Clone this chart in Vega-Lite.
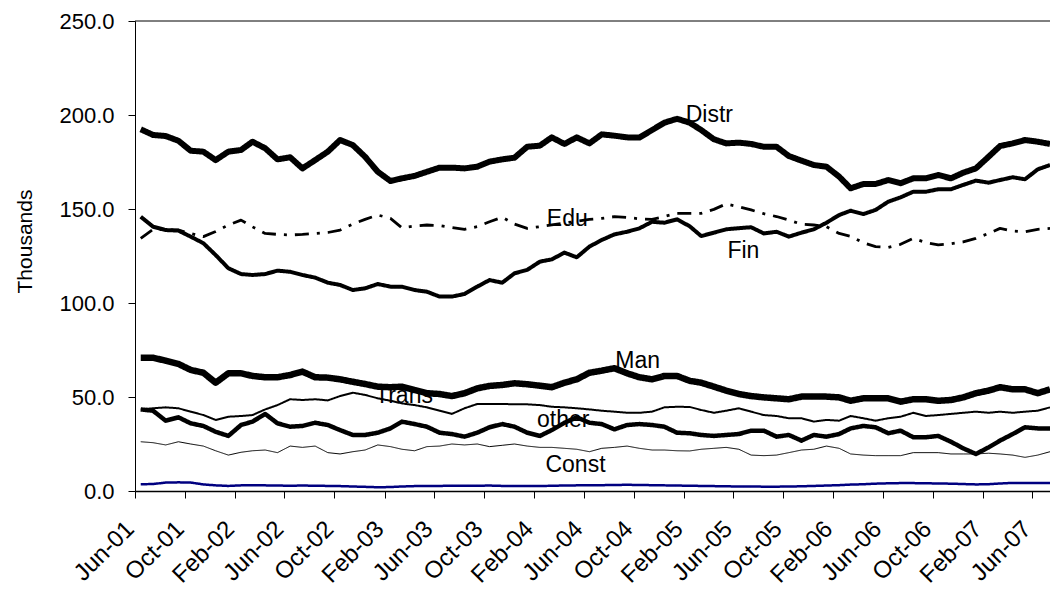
{
  "$schema": "https://vega.github.io/schema/vega-lite/v6.json",
  "width": 915,
  "height": 470,
  "autosize": "none",
  "padding": {"left": 135, "top": 21, "right": 0, "bottom": 102},
  "background": "white",
  "config": {
    "view": {"stroke": null},
    "font": "Liberation Sans",
    "axis": {"labelColor": "black", "titleColor": "black", "domainColor": "black", "tickColor": "black", "grid": false, "labelFont": "Liberation Sans", "titleFont": "Liberation Sans"}
  },
  "datasets": {
    "jobs": [
      {"d": "2001/06/15", "Distr": 192.4, "Edu": 134.4, "Fin": 145.9, "Man": 70.9, "Trans": 43.4, "other": 43.4, "Const": 26.2, "Agr": 3.6},
      {"d": "2001/07/15", "Distr": 189.4, "Edu": 139.2, "Fin": 140.6, "Man": 70.9, "Trans": 44, "other": 42.7, "Const": 25.7, "Agr": 3.7},
      {"d": "2001/08/15", "Distr": 188.8, "Edu": 139, "Fin": 138.8, "Man": 69.3, "Trans": 44.5, "other": 37.4, "Const": 24.5, "Agr": 4.5},
      {"d": "2001/09/15", "Distr": 186.3, "Edu": 138.8, "Fin": 138.5, "Man": 67.6, "Trans": 44, "other": 39.2, "Const": 26.2, "Agr": 4.6},
      {"d": "2001/10/15", "Distr": 181, "Edu": 137, "Fin": 135.3, "Man": 64.4, "Trans": 42.2, "other": 36, "Const": 25, "Agr": 4.5},
      {"d": "2001/11/15", "Distr": 180.5, "Edu": 135.3, "Fin": 131.8, "Man": 62.9, "Trans": 40.4, "other": 34.6, "Const": 23.9, "Agr": 3.5},
      {"d": "2001/12/15", "Distr": 176, "Edu": 138, "Fin": 125.5, "Man": 57.6, "Trans": 37.8, "other": 31.5, "Const": 21.4, "Agr": 3.0},
      {"d": "2002/01/15", "Distr": 180.5, "Edu": 141.5, "Fin": 118.5, "Man": 62.6, "Trans": 39.5, "other": 29.3, "Const": 19.1, "Agr": 2.7},
      {"d": "2002/02/15", "Distr": 181.4, "Edu": 144.1, "Fin": 115.4, "Man": 62.6, "Trans": 39.9, "other": 35.1, "Const": 20.6, "Agr": 3.0},
      {"d": "2002/03/15", "Distr": 185.8, "Edu": 140.5, "Fin": 114.9, "Man": 61.2, "Trans": 40.4, "other": 36.9, "Const": 21.4, "Agr": 3.1},
      {"d": "2002/04/15", "Distr": 182.3, "Edu": 137, "Fin": 115.4, "Man": 60.5, "Trans": 43.4, "other": 41, "Const": 21.8, "Agr": 3.0},
      {"d": "2002/05/15", "Distr": 176.4, "Edu": 136.5, "Fin": 117.2, "Man": 60.5, "Trans": 45.7, "other": 36, "Const": 20.4, "Agr": 2.9},
      {"d": "2002/06/15", "Distr": 177.5, "Edu": 136.2, "Fin": 116.6, "Man": 61.7, "Trans": 48.8, "other": 34.2, "Const": 23.9, "Agr": 2.8},
      {"d": "2002/07/15", "Distr": 171.6, "Edu": 136.5, "Fin": 114.9, "Man": 63.5, "Trans": 48.4, "other": 34.6, "Const": 23.2, "Agr": 2.9},
      {"d": "2002/08/15", "Distr": 176, "Edu": 137, "Fin": 113.5, "Man": 60.5, "Trans": 48.8, "other": 36.3, "Const": 23.9, "Agr": 2.8},
      {"d": "2002/09/15", "Distr": 180.5, "Edu": 137.5, "Fin": 110.8, "Man": 60.3, "Trans": 48.2, "other": 35.1, "Const": 20.4, "Agr": 2.7},
      {"d": "2002/10/15", "Distr": 186.7, "Edu": 138.8, "Fin": 109.6, "Man": 59.4, "Trans": 50.5, "other": 32.4, "Const": 19.7, "Agr": 2.6},
      {"d": "2002/11/15", "Distr": 184, "Edu": 142, "Fin": 106.9, "Man": 58.1, "Trans": 52.3, "other": 29.8, "Const": 20.9, "Agr": 2.4},
      {"d": "2002/12/15", "Distr": 177.8, "Edu": 144.5, "Fin": 107.8, "Man": 56.9, "Trans": 51.1, "other": 29.8, "Const": 21.8, "Agr": 2.2},
      {"d": "2003/01/15", "Distr": 169.8, "Edu": 146.8, "Fin": 110.1, "Man": 55.5, "Trans": 49.3, "other": 31, "Const": 24.5, "Agr": 2.0},
      {"d": "2003/02/15", "Distr": 164.9, "Edu": 145, "Fin": 108.7, "Man": 55.2, "Trans": 48, "other": 33.3, "Const": 23.6, "Agr": 2.1},
      {"d": "2003/03/15", "Distr": 166.3, "Edu": 140, "Fin": 108.7, "Man": 55.5, "Trans": 46.6, "other": 36.9, "Const": 22.2, "Agr": 2.4},
      {"d": "2003/04/15", "Distr": 167.6, "Edu": 141, "Fin": 106.9, "Man": 53.7, "Trans": 45.7, "other": 35.6, "Const": 21.4, "Agr": 2.6},
      {"d": "2003/05/15", "Distr": 169.8, "Edu": 141.5, "Fin": 106, "Man": 52, "Trans": 44.5, "other": 34.2, "Const": 23.6, "Agr": 2.7},
      {"d": "2003/06/15", "Distr": 172, "Edu": 141.2, "Fin": 103.4, "Man": 51.6, "Trans": 42.7, "other": 31, "Const": 23.9, "Agr": 2.7},
      {"d": "2003/07/15", "Distr": 172, "Edu": 140.2, "Fin": 103.4, "Man": 50.5, "Trans": 41, "other": 30.3, "Const": 25, "Agr": 2.8},
      {"d": "2003/08/15", "Distr": 171.6, "Edu": 139.2, "Fin": 104.8, "Man": 52, "Trans": 44, "other": 28.9, "Const": 24.5, "Agr": 2.8},
      {"d": "2003/09/15", "Distr": 172.5, "Edu": 140.6, "Fin": 108.7, "Man": 54.6, "Trans": 46.3, "other": 31, "Const": 25, "Agr": 2.8},
      {"d": "2003/10/15", "Distr": 175.2, "Edu": 143.2, "Fin": 112.2, "Man": 55.9, "Trans": 46.3, "other": 33.9, "Const": 23.6, "Agr": 2.9},
      {"d": "2003/11/15", "Distr": 176.4, "Edu": 145.6, "Fin": 110.8, "Man": 56.4, "Trans": 46.3, "other": 35.6, "Const": 24.3, "Agr": 2.7},
      {"d": "2003/12/15", "Distr": 177.3, "Edu": 142, "Fin": 115.8, "Man": 57.3, "Trans": 46.1, "other": 34.2, "Const": 25, "Agr": 2.6},
      {"d": "2004/01/15", "Distr": 183.1, "Edu": 139.7, "Fin": 117.6, "Man": 56.8, "Trans": 46.1, "other": 31, "Const": 23.9, "Agr": 2.6},
      {"d": "2004/02/15", "Distr": 183.7, "Edu": 140.6, "Fin": 122, "Man": 56, "Trans": 45.7, "other": 29.3, "Const": 23.2, "Agr": 2.6},
      {"d": "2004/03/15", "Distr": 188.1, "Edu": 141.5, "Fin": 123.2, "Man": 55.2, "Trans": 44.8, "other": 32.4, "Const": 23.2, "Agr": 2.8},
      {"d": "2004/04/15", "Distr": 184.6, "Edu": 142.5, "Fin": 126.8, "Man": 57.6, "Trans": 44.5, "other": 36.3, "Const": 22.7, "Agr": 2.9},
      {"d": "2004/05/15", "Distr": 188.1, "Edu": 143.5, "Fin": 124.3, "Man": 59.4, "Trans": 44, "other": 39.2, "Const": 22.2, "Agr": 3.0},
      {"d": "2004/06/15", "Distr": 184.9, "Edu": 144.5, "Fin": 130, "Man": 62.9, "Trans": 43.4, "other": 36.3, "Const": 20.9, "Agr": 3.0},
      {"d": "2004/07/15", "Distr": 189.7, "Edu": 145, "Fin": 133.5, "Man": 64, "Trans": 42.7, "other": 35.6, "Const": 22.7, "Agr": 3.1},
      {"d": "2004/08/15", "Distr": 189, "Edu": 145.9, "Fin": 136.5, "Man": 65.3, "Trans": 42.2, "other": 32.8, "Const": 23.2, "Agr": 3.2},
      {"d": "2004/09/15", "Distr": 188.1, "Edu": 145.5, "Fin": 137.9, "Man": 62.6, "Trans": 41.6, "other": 35.1, "Const": 23.9, "Agr": 3.3},
      {"d": "2004/10/15", "Distr": 188, "Edu": 144.8, "Fin": 139.7, "Man": 60.5, "Trans": 41.6, "other": 35.6, "Const": 22.7, "Agr": 3.2},
      {"d": "2004/11/15", "Distr": 192, "Edu": 144.5, "Fin": 143.2, "Man": 59.4, "Trans": 42.2, "other": 35.1, "Const": 21.8, "Agr": 3.1},
      {"d": "2004/12/15", "Distr": 195.9, "Edu": 146, "Fin": 142.7, "Man": 61.2, "Trans": 44.5, "other": 34.2, "Const": 21.8, "Agr": 3.0},
      {"d": "2005/01/15", "Distr": 198, "Edu": 147.7, "Fin": 144.5, "Man": 61.2, "Trans": 44.8, "other": 31, "Const": 21.4, "Agr": 2.9},
      {"d": "2005/02/15", "Distr": 195.9, "Edu": 147.7, "Fin": 140.8, "Man": 58.6, "Trans": 44.7, "other": 30.7, "Const": 21.3, "Agr": 2.8},
      {"d": "2005/03/15", "Distr": 192, "Edu": 147.7, "Fin": 135.6, "Man": 57.6, "Trans": 43.1, "other": 29.8, "Const": 22.2, "Agr": 2.7},
      {"d": "2005/04/15", "Distr": 187.1, "Edu": 149.8, "Fin": 137.4, "Man": 55.5, "Trans": 41.6, "other": 29.3, "Const": 22.7, "Agr": 2.6},
      {"d": "2005/05/15", "Distr": 184.9, "Edu": 152.7, "Fin": 139.2, "Man": 53.4, "Trans": 42.7, "other": 29.8, "Const": 23.2, "Agr": 2.5},
      {"d": "2005/06/15", "Distr": 185.3, "Edu": 151.2, "Fin": 139.8, "Man": 51.6, "Trans": 44, "other": 30.3, "Const": 22.2, "Agr": 2.4},
      {"d": "2005/07/15", "Distr": 184.6, "Edu": 149.5, "Fin": 140.3, "Man": 50.5, "Trans": 42.2, "other": 32.1, "Const": 19.1, "Agr": 2.4},
      {"d": "2005/08/15", "Distr": 183.1, "Edu": 147.5, "Fin": 137, "Man": 49.8, "Trans": 40.4, "other": 32.1, "Const": 18.8, "Agr": 2.3},
      {"d": "2005/09/15", "Distr": 183.1, "Edu": 146, "Fin": 137.9, "Man": 49.3, "Trans": 39.9, "other": 28.9, "Const": 19.1, "Agr": 2.3},
      {"d": "2005/10/15", "Distr": 178.2, "Edu": 144.1, "Fin": 135.3, "Man": 48.8, "Trans": 38.7, "other": 29.8, "Const": 20.4, "Agr": 2.4},
      {"d": "2005/11/15", "Distr": 175.7, "Edu": 141.9, "Fin": 137.4, "Man": 50.2, "Trans": 38.7, "other": 26.8, "Const": 21.8, "Agr": 2.5},
      {"d": "2005/12/15", "Distr": 173.4, "Edu": 141.5, "Fin": 139.2, "Man": 50.2, "Trans": 36.9, "other": 29.8, "Const": 22.2, "Agr": 2.7},
      {"d": "2006/01/15", "Distr": 172.5, "Edu": 140.6, "Fin": 142.7, "Man": 50.2, "Trans": 37.8, "other": 28.9, "Const": 23.9, "Agr": 2.9},
      {"d": "2006/02/15", "Distr": 167.2, "Edu": 137, "Fin": 146.8, "Man": 49.8, "Trans": 37.4, "other": 30.3, "Const": 22.7, "Agr": 3.1},
      {"d": "2006/03/15", "Distr": 161, "Edu": 135.5, "Fin": 149.1, "Man": 48, "Trans": 39.9, "other": 33.3, "Const": 19.7, "Agr": 3.4},
      {"d": "2006/04/15", "Distr": 163.3, "Edu": 132, "Fin": 147.3, "Man": 49.3, "Trans": 38.7, "other": 34.6, "Const": 19.1, "Agr": 3.6},
      {"d": "2006/05/15", "Distr": 163.3, "Edu": 130, "Fin": 149.5, "Man": 49.3, "Trans": 37.4, "other": 33.9, "Const": 18.8, "Agr": 3.9},
      {"d": "2006/06/15", "Distr": 165.4, "Edu": 129.6, "Fin": 153.9, "Man": 49.3, "Trans": 38.7, "other": 30.7, "Const": 18.8, "Agr": 4.1},
      {"d": "2006/07/15", "Distr": 163.7, "Edu": 131.2, "Fin": 156.2, "Man": 47.5, "Trans": 39.5, "other": 32.1, "Const": 18.8, "Agr": 4.2},
      {"d": "2006/08/15", "Distr": 166.3, "Edu": 134.4, "Fin": 159.2, "Man": 48.8, "Trans": 41.6, "other": 28.6, "Const": 20.4, "Agr": 4.2},
      {"d": "2006/09/15", "Distr": 166.3, "Edu": 132.1, "Fin": 159.2, "Man": 48.8, "Trans": 39.9, "other": 28.6, "Const": 20.4, "Agr": 4.1},
      {"d": "2006/10/15", "Distr": 168.1, "Edu": 130.9, "Fin": 160.5, "Man": 48, "Trans": 40.4, "other": 29.3, "Const": 20.4, "Agr": 4.0},
      {"d": "2006/11/15", "Distr": 166.3, "Edu": 131.5, "Fin": 160.5, "Man": 48.4, "Trans": 41, "other": 26.2, "Const": 19.7, "Agr": 3.9},
      {"d": "2006/12/15", "Distr": 169.3, "Edu": 132.5, "Fin": 162.8, "Man": 49.8, "Trans": 41.6, "other": 22.7, "Const": 19.7, "Agr": 3.7},
      {"d": "2007/01/15", "Distr": 171.6, "Edu": 134.4, "Fin": 165.1, "Man": 52, "Trans": 42.2, "other": 19.7, "Const": 19.7, "Agr": 3.5},
      {"d": "2007/02/15", "Distr": 177.8, "Edu": 137, "Fin": 164, "Man": 53.4, "Trans": 41.6, "other": 23.2, "Const": 20.1, "Agr": 3.6},
      {"d": "2007/03/15", "Distr": 183.5, "Edu": 139.7, "Fin": 165.4, "Man": 55.2, "Trans": 42.2, "other": 26.8, "Const": 19.7, "Agr": 4.0},
      {"d": "2007/04/15", "Distr": 184.9, "Edu": 138.3, "Fin": 166.9, "Man": 54.1, "Trans": 41.6, "other": 30.3, "Const": 19.1, "Agr": 4.3},
      {"d": "2007/05/15", "Distr": 186.7, "Edu": 137.9, "Fin": 165.8, "Man": 54.1, "Trans": 42.2, "other": 33.9, "Const": 17.9, "Agr": 4.3},
      {"d": "2007/06/15", "Distr": 185.8, "Edu": 139.2, "Fin": 171.1, "Man": 52, "Trans": 42.7, "other": 33.3, "Const": 19.1, "Agr": 4.2},
      {"d": "2007/07/15", "Distr": 184.6, "Edu": 139.7, "Fin": 173.4, "Man": 54.1, "Trans": 44.5, "other": 33.3, "Const": 20.9, "Agr": 4.3}
    ],
    "labels": [
      {"d": "2005/04/04", "v": 196.3, "t": "Distr"},
      {"d": "2004/04/22", "v": 141.0, "t": "Edu"},
      {"d": "2005/06/26", "v": 123.9, "t": "Fin"},
      {"d": "2004/10/11", "v": 65.4, "t": "Man"},
      {"d": "2003/03/20", "v": 46.8, "t": "Trans"},
      {"d": "2004/04/12", "v": 34.0, "t": "other"},
      {"d": "2004/05/12", "v": 10.3, "t": "Const"}
    ]
  },
  "layer": [
    {
      "data": {"name": "labels"},
      "mark": {"type": "text", "font": "Liberation Sans", "fontSize": 23, "align": "center", "baseline": "alphabetic", "color": "black"},
      "encoding": {
        "x": {"field": "d", "type": "temporal"},
        "y": {"field": "v", "type": "quantitative"},
        "text": {"field": "t"}
      }
    },
    {
      "data": {"values": [{}]},
      "mark": {"type": "rule", "color": "black", "strokeWidth": 1},
      "encoding": {"y": {"datum": 250}}
    },
    {
      "data": {"name": "jobs"},
      "transform": [{"fold": ["Agr", "Const", "Trans", "other", "Man", "Edu", "Fin", "Distr"], "as": ["series", "value"]}],
      "mark": {"type": "line", "clip": true, "strokeJoin": "round"},
      "encoding": {
        "x": {
          "field": "d", "type": "temporal",
          "scale": {"domain": [{"year": 2001, "month": 6, "date": 1}, {"year": 2007, "month": 7, "date": 15}]},
          "axis": {
            "title": null,
            "format": "%b-%y",
            "values": [
              {"year": 2001, "month": 6, "date": 1}, {"year": 2001, "month": 10, "date": 1},
              {"year": 2002, "month": 2, "date": 1}, {"year": 2002, "month": 6, "date": 1}, {"year": 2002, "month": 10, "date": 1},
              {"year": 2003, "month": 2, "date": 1}, {"year": 2003, "month": 6, "date": 1}, {"year": 2003, "month": 10, "date": 1},
              {"year": 2004, "month": 2, "date": 1}, {"year": 2004, "month": 6, "date": 1}, {"year": 2004, "month": 10, "date": 1},
              {"year": 2005, "month": 2, "date": 1}, {"year": 2005, "month": 6, "date": 1}, {"year": 2005, "month": 10, "date": 1},
              {"year": 2006, "month": 2, "date": 1}, {"year": 2006, "month": 6, "date": 1}, {"year": 2006, "month": 10, "date": 1},
              {"year": 2007, "month": 2, "date": 1}, {"year": 2007, "month": 6, "date": 1}
            ],
            "labelAngle": -45,
            "labelAlign": "right",
            "labelBaseline": "middle",
            "labelFontSize": 24,
            "labelPadding": 27,
            "labelOffset": -5,
            "labelOverlap": false,
            "labelFlush": false,
            "tickSize": 7,
            "tickWidth": 1,
            "domainWidth": 1.5
          }
        },
        "y": {
          "field": "value", "type": "quantitative",
          "scale": {"domain": [0, 250], "nice": false, "zero": true},
          "axis": {
            "title": "Thousands",
            "titleFontSize": 21,
            "titleFontWeight": "normal",
            "titleX": -104,
            "titleY": 220,
            "titleAngle": -90,
            "titleAlign": "center",
            "titleBaseline": "alphabetic",
            "values": [0, 50, 100, 150, 200, 250],
            "format": ".1f",
            "labelFontSize": 22,
            "labelPadding": 14,
            "tickSize": 7,
            "tickWidth": 1,
            "domainWidth": 1
          }
        },
        "color": {
          "field": "series", "type": "nominal", "legend": null,
          "scale": {"domain": ["Agr", "Const", "Trans", "other", "Man", "Edu", "Fin", "Distr"], "range": ["#000080", "black", "black", "black", "black", "black", "black", "black"]}
        },
        "strokeWidth": {
          "field": "series", "type": "nominal", "legend": null,
          "scale": {"type": "ordinal", "domain": ["Agr", "Const", "Trans", "other", "Man", "Edu", "Fin", "Distr"], "range": [2.5, 1, 2, 4.5, 6.5, 2.8, 4, 6]}
        },
        "strokeDash": {
          "field": "series", "type": "nominal", "legend": null,
          "scale": {"domain": ["Agr", "Const", "Trans", "other", "Man", "Edu", "Fin", "Distr"], "range": [[1, 0], [1, 0], [1, 0], [1, 0], [1, 0], [14, 8, 3, 8], [1, 0], [1, 0]]}
        }
      }
    }
  ]
}
